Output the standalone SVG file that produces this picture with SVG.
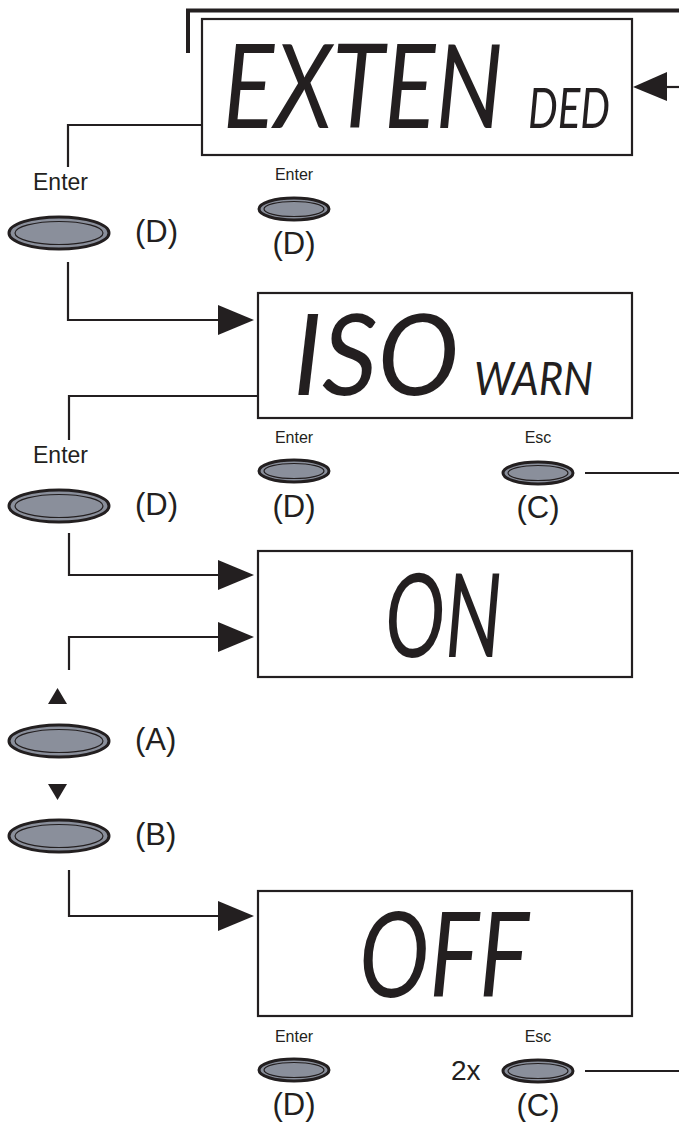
<svg xmlns="http://www.w3.org/2000/svg" width="679" height="1122" viewBox="0 0 679 1122">
<style>
.box{fill:#fff;stroke:#231f20;stroke-width:2.2}
.ln{fill:none;stroke:#231f20;stroke-width:2.2}
.ah{fill:#231f20}
.btn{fill:#8a8f9b;stroke:#231f20;stroke-width:3}
.btni{fill:none;stroke:#231f20;stroke-width:1.2}
.lbl{font-family:"Liberation Sans",Arial,sans-serif;fill:#231f20}
.lcd{font-family:Lato,"Liberation Sans",Arial,sans-serif;font-weight:400;font-style:italic;fill:#231f20}
</style>
<rect width="679" height="1122" fill="#fff"/>
<g id="connectors">
<path class="ln" d="M188,53 V10.5 H679" style="stroke-width:4"/>
<path class="ln" d="M679,87 H666"/>
<polygon class="ah" points="667,72 633,87 667,101"/>
<path class="ln" d="M202,125 H68 V167"/>
<path class="ln" d="M68,262 V320 H220"/>
<polygon class="ah" points="218,305 254,320 218,335"/>
<path class="ln" d="M258,396 H69 V440"/>
<path class="ln" d="M69,533 V575 H220"/>
<polygon class="ah" points="218,560 254,575 218,590"/>
<path class="ln" d="M69,670 V637 H220"/>
<polygon class="ah" points="218,622 254,637 218,652"/>
<path class="ln" d="M69,870 V916 H220"/>
<polygon class="ah" points="218,901 254,916 218,931"/>
<path class="ln" d="M585,473 H679"/>
<path class="ln" d="M585,1071 H679"/>
</g>
<g id="display-extended">
<rect class="box" x="202" y="19" width="430" height="136"/>
<text class="lcd" transform="translate(223,128) scale(0.7,1)" x="0" y="0" font-size="116" textLength="400" lengthAdjust="spacingAndGlyphs">EXTEN</text>
<text class="lcd" x="528" y="128" font-size="56" textLength="82" lengthAdjust="spacingAndGlyphs">DED</text>
</g>
<g id="display-isowarn">
<rect class="box" x="258" y="293" width="374" height="125"/>
<text class="lcd" x="293" y="395" font-size="112" textLength="166" lengthAdjust="spacingAndGlyphs">ISO</text>
<text class="lcd" x="474" y="395" font-size="46" textLength="119" lengthAdjust="spacingAndGlyphs">WARN</text>
</g>
<g id="display-on">
<rect class="box" x="258" y="551" width="374" height="126"/>
<text class="lcd" x="385" y="657" font-size="116" textLength="117" lengthAdjust="spacingAndGlyphs">ON</text>
</g>
<g id="display-off">
<rect class="box" x="258" y="891" width="374" height="125"/>
<text class="lcd" x="359" y="997" font-size="118" textLength="170" lengthAdjust="spacingAndGlyphs">OFF</text>
</g>
<g id="btn-enter-1">
<text class="lbl" x="33" y="190" font-size="23">Enter</text>
<ellipse class="btn" cx="59" cy="233" rx="50" ry="16"/>
<ellipse class="btni" cx="59" cy="233" rx="44" ry="11.5"/>
<text class="lbl" x="135" y="242" font-size="31">(D)</text>
</g>
<g id="btn-enter-top">
<text class="lbl" x="294" y="180" font-size="16" text-anchor="middle">Enter</text>
<ellipse class="btn" cx="294" cy="209" rx="35" ry="11"/>
<ellipse class="btni" cx="294" cy="209" rx="30" ry="7.5"/>
<text class="lbl" x="294" y="254" font-size="31" text-anchor="middle">(D)</text>
</g>
<g id="btn-enter-2">
<text class="lbl" x="33" y="463" font-size="23">Enter</text>
<ellipse class="btn" cx="59" cy="506" rx="50" ry="16"/>
<ellipse class="btni" cx="59" cy="506" rx="44" ry="11.5"/>
<text class="lbl" x="135" y="515" font-size="31">(D)</text>
</g>
<g id="btn-enter-iso">
<text class="lbl" x="294" y="443" font-size="16" text-anchor="middle">Enter</text>
<ellipse class="btn" cx="294" cy="471" rx="35" ry="11"/>
<ellipse class="btni" cx="294" cy="471" rx="30" ry="7.5"/>
<text class="lbl" x="294" y="517" font-size="31" text-anchor="middle">(D)</text>
</g>
<g id="btn-esc-iso">
<text class="lbl" x="538" y="443" font-size="16" text-anchor="middle">Esc</text>
<ellipse class="btn" cx="538" cy="473" rx="35" ry="11"/>
<ellipse class="btni" cx="538" cy="473" rx="30" ry="7.5"/>
<text class="lbl" x="538" y="518" font-size="31" text-anchor="middle">(C)</text>
</g>
<g id="btn-up">
<polygon class="ah" points="48,704 67,704 57.5,688"/>
<ellipse class="btn" cx="59" cy="741" rx="50" ry="16"/>
<ellipse class="btni" cx="59" cy="741" rx="44" ry="11.5"/>
<text class="lbl" x="135" y="750" font-size="31">(A)</text>
</g>
<g id="btn-down">
<polygon class="ah" points="48,784 67,784 57.5,800"/>
<ellipse class="btn" cx="59" cy="836" rx="50" ry="16"/>
<ellipse class="btni" cx="59" cy="836" rx="44" ry="11.5"/>
<text class="lbl" x="135" y="845" font-size="31">(B)</text>
</g>
<g id="btn-enter-off">
<text class="lbl" x="294" y="1042" font-size="16" text-anchor="middle">Enter</text>
<ellipse class="btn" cx="294" cy="1070" rx="35" ry="11"/>
<ellipse class="btni" cx="294" cy="1070" rx="30" ry="7.5"/>
<text class="lbl" x="294" y="1115" font-size="31" text-anchor="middle">(D)</text>
</g>
<g id="btn-esc-off">
<text class="lbl" x="538" y="1042" font-size="16" text-anchor="middle">Esc</text>
<text class="lbl" x="451" y="1080" font-size="28">2x</text>
<ellipse class="btn" cx="538" cy="1071" rx="35" ry="11"/>
<ellipse class="btni" cx="538" cy="1071" rx="30" ry="7.5"/>
<text class="lbl" x="538" y="1116" font-size="31" text-anchor="middle">(C)</text>
</g>
</svg>
